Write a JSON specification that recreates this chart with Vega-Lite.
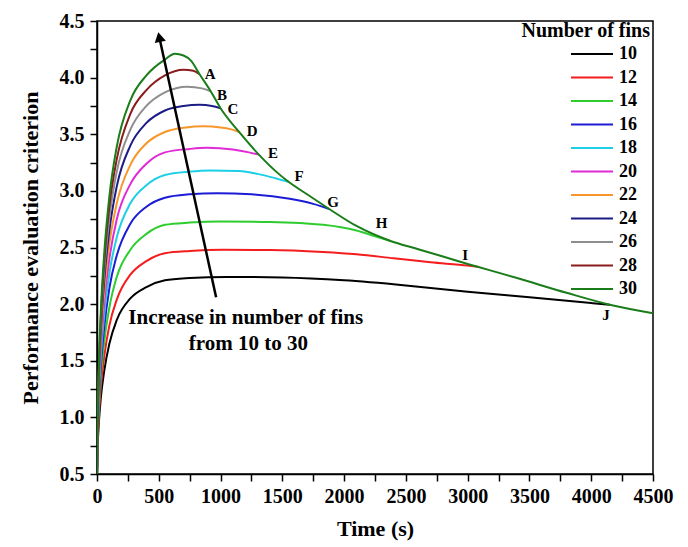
{
  "$schema": "https://vega.github.io/schema/vega-lite/v6.json",
  "width": 556,
  "height": 453,
  "autosize": {"type": "none"},
  "padding": {"left": 97, "top": 21, "right": 35, "bottom": 73},
  "background": "white",
  "config": {
    "view": {"stroke": "#000", "strokeWidth": 1.5},
    "font": "Liberation Serif",
    "axis": {"domainColor": "#000", "domainWidth": 1.5, "tickColor": "#000", "tickWidth": 1.5, "grid": false,
      "labelFont": "Liberation Serif", "labelFontWeight": "bold", "labelFontSize": 20, "labelColor": "#000",
      "titleFont": "Liberation Serif", "titleFontWeight": "bold", "titleFontSize": 22, "titleColor": "#000"}
  },
  "datasets": {
    "curves": [
      {"n":10,"t":0,"y":0.5},{"n":10,"t":5,"y":0.73},{"n":10,"t":15,"y":0.95},{"n":10,"t":30,"y":1.16},{"n":10,"t":60,"y":1.42},{"n":10,"t":100,"y":1.65},{"n":10,"t":160,"y":1.86},{"n":10,"t":270,"y":2.05},{"n":10,"t":400,"y":2.15},{"n":10,"t":550,"y":2.21},{"n":10,"t":750,"y":2.23},{"n":10,"t":1050,"y":2.24},{"n":10,"t":1500,"y":2.235},{"n":10,"t":2000,"y":2.21},{"n":10,"t":2500,"y":2.165},{"n":10,"t":3000,"y":2.11},{"n":10,"t":3500,"y":2.06},{"n":10,"t":4000,"y":2.01},{"n":10,"t":4150,"y":1.995},
      {"n":12,"t":0,"y":0.5},{"n":12,"t":5,"y":0.76},{"n":12,"t":15,"y":1.01},{"n":12,"t":30,"y":1.25},{"n":12,"t":60,"y":1.55},{"n":12,"t":100,"y":1.81},{"n":12,"t":160,"y":2.04},{"n":12,"t":270,"y":2.26},{"n":12,"t":400,"y":2.38},{"n":12,"t":550,"y":2.45},{"n":12,"t":750,"y":2.47},{"n":12,"t":1020,"y":2.48},{"n":12,"t":1400,"y":2.478},{"n":12,"t":1830,"y":2.46},{"n":12,"t":2100,"y":2.44},{"n":12,"t":2400,"y":2.405},{"n":12,"t":2700,"y":2.37},{"n":12,"t":3000,"y":2.34},{"n":12,"t":3080,"y":2.33},
      {"n":14,"t":0,"y":0.5},{"n":14,"t":5,"y":0.79},{"n":14,"t":15,"y":1.08},{"n":14,"t":30,"y":1.35},{"n":14,"t":60,"y":1.68},{"n":14,"t":100,"y":1.97},{"n":14,"t":160,"y":2.24},{"n":14,"t":270,"y":2.48},{"n":14,"t":400,"y":2.62},{"n":14,"t":550,"y":2.7},{"n":14,"t":750,"y":2.72},{"n":14,"t":1000,"y":2.73},{"n":14,"t":1400,"y":2.725},{"n":14,"t":1830,"y":2.7},{"n":14,"t":2100,"y":2.65},{"n":14,"t":2250,"y":2.6},{"n":14,"t":2370,"y":2.56},
      {"n":16,"t":0,"y":0.5},{"n":16,"t":5,"y":0.82},{"n":16,"t":15,"y":1.14},{"n":16,"t":30,"y":1.44},{"n":16,"t":60,"y":1.81},{"n":16,"t":100,"y":2.14},{"n":16,"t":160,"y":2.43},{"n":16,"t":270,"y":2.71},{"n":16,"t":400,"y":2.86},{"n":16,"t":550,"y":2.94},{"n":16,"t":750,"y":2.97},{"n":16,"t":970,"y":2.98},{"n":16,"t":1250,"y":2.97},{"n":16,"t":1560,"y":2.93},{"n":16,"t":1750,"y":2.885},{"n":16,"t":1880,"y":2.84},
      {"n":18,"t":0,"y":0.5},{"n":18,"t":5,"y":0.85},{"n":18,"t":15,"y":1.2},{"n":18,"t":30,"y":1.52},{"n":18,"t":60,"y":1.92},{"n":18,"t":100,"y":2.27},{"n":18,"t":160,"y":2.59},{"n":18,"t":270,"y":2.89},{"n":18,"t":400,"y":3.05},{"n":18,"t":550,"y":3.14},{"n":18,"t":750,"y":3.17},{"n":18,"t":915,"y":3.18},{"n":18,"t":1150,"y":3.175},{"n":18,"t":1300,"y":3.15},{"n":18,"t":1450,"y":3.11},{"n":18,"t":1550,"y":3.08},
      {"n":20,"t":0,"y":0.5},{"n":20,"t":5,"y":0.87},{"n":20,"t":15,"y":1.25},{"n":20,"t":30,"y":1.59},{"n":20,"t":60,"y":2.03},{"n":20,"t":100,"y":2.4},{"n":20,"t":160,"y":2.75},{"n":20,"t":270,"y":3.06},{"n":20,"t":400,"y":3.24},{"n":20,"t":550,"y":3.34},{"n":20,"t":750,"y":3.37},{"n":20,"t":890,"y":3.38},{"n":20,"t":1100,"y":3.365},{"n":20,"t":1230,"y":3.34},{"n":20,"t":1310,"y":3.32},
      {"n":22,"t":0,"y":0.5},{"n":22,"t":5,"y":0.9},{"n":22,"t":15,"y":1.3},{"n":22,"t":30,"y":1.67},{"n":22,"t":60,"y":2.13},{"n":22,"t":100,"y":2.53},{"n":22,"t":160,"y":2.89},{"n":22,"t":270,"y":3.23},{"n":22,"t":400,"y":3.42},{"n":22,"t":550,"y":3.52},{"n":22,"t":720,"y":3.56},{"n":22,"t":860,"y":3.57},{"n":22,"t":1000,"y":3.56},{"n":22,"t":1080,"y":3.545},{"n":22,"t":1150,"y":3.52},
      {"n":24,"t":0,"y":0.5},{"n":24,"t":5,"y":0.92},{"n":24,"t":15,"y":1.35},{"n":24,"t":30,"y":1.74},{"n":24,"t":60,"y":2.23},{"n":24,"t":100,"y":2.65},{"n":24,"t":160,"y":3.04},{"n":24,"t":270,"y":3.4},{"n":24,"t":400,"y":3.6},{"n":24,"t":550,"y":3.71},{"n":24,"t":700,"y":3.75},{"n":24,"t":830,"y":3.76},{"n":24,"t":930,"y":3.75},{"n":24,"t":1000,"y":3.73},
      {"n":26,"t":0,"y":0.5},{"n":26,"t":5,"y":0.94},{"n":26,"t":15,"y":1.39},{"n":26,"t":30,"y":1.8},{"n":26,"t":60,"y":2.31},{"n":26,"t":100,"y":2.76},{"n":26,"t":160,"y":3.17},{"n":26,"t":270,"y":3.54},{"n":26,"t":400,"y":3.75},{"n":26,"t":550,"y":3.87},{"n":26,"t":730,"y":3.92},{"n":26,"t":850,"y":3.905},{"n":26,"t":920,"y":3.88},
      {"n":28,"t":0,"y":0.5},{"n":28,"t":5,"y":0.96},{"n":28,"t":15,"y":1.43},{"n":28,"t":30,"y":1.86},{"n":28,"t":60,"y":2.39},{"n":28,"t":100,"y":2.86},{"n":28,"t":160,"y":3.28},{"n":28,"t":270,"y":3.68},{"n":28,"t":400,"y":3.89},{"n":28,"t":550,"y":4.02},{"n":28,"t":700,"y":4.07},{"n":28,"t":780,"y":4.06},{"n":28,"t":830,"y":4.03},
      {"n":30,"t":0,"y":0.5},{"n":30,"t":5,"y":0.98},{"n":30,"t":15,"y":1.46},{"n":30,"t":30,"y":1.91},{"n":30,"t":60,"y":2.47},{"n":30,"t":100,"y":2.95},{"n":30,"t":160,"y":3.39},{"n":30,"t":270,"y":3.8},{"n":30,"t":400,"y":4.02},{"n":30,"t":550,"y":4.16},{"n":30,"t":630,"y":4.21},{"n":30,"t":700,"y":4.195},{"n":30,"t":760,"y":4.15},{"n":30,"t":830,"y":4.03},{"n":30,"t":920,"y":3.88},{"n":30,"t":1000,"y":3.73},{"n":30,"t":1150,"y":3.52},{"n":30,"t":1310,"y":3.32},{"n":30,"t":1450,"y":3.17},{"n":30,"t":1550,"y":3.08},{"n":30,"t":1700,"y":2.97},{"n":30,"t":1880,"y":2.84},{"n":30,"t":2100,"y":2.69},{"n":30,"t":2370,"y":2.56},{"n":30,"t":2600,"y":2.485},{"n":30,"t":2800,"y":2.42},{"n":30,"t":3000,"y":2.355},{"n":30,"t":3080,"y":2.33},{"n":30,"t":3400,"y":2.23},{"n":30,"t":3800,"y":2.1},{"n":30,"t":4150,"y":1.995},{"n":30,"t":4500,"y":1.92}
    ],
    "letters": [
      {"t":915,"y":4.035,"lab":"A"},{"t":1012,"y":3.844,"lab":"B"},{"t":1101,"y":3.72,"lab":"C"},{"t":1255,"y":3.526,"lab":"D"},{"t":1425,"y":3.335,"lab":"E"},
      {"t":1635,"y":3.131,"lab":"F"},{"t":1910,"y":2.9,"lab":"G"},{"t":2304,"y":2.716,"lab":"H"},{"t":2979,"y":2.437,"lab":"I"},{"t":4120,"y":1.9,"lab":"J"}
    ],
    "notes": [
      {"t":1204,"y":1.875,"txt":"Increase in number of fins"},
      {"t":1225,"y":1.65,"txt":"from 10 to 30"}
    ],
    "arrow": [{"t":964,"y":2.06,"t2":504,"y2":4.358}],
    "head": [{"t":504,"y":4.358}],
    "legtitle": [{"t":4500,"y":4.415,"txt":"Number of fins"}]
  },
  "encoding": {
    "x": {"field": "t", "type": "quantitative",
      "scale": {"domain": [0, 4500], "nice": false, "zero": false},
      "axis": {"title": "Time (s)", "values": [0,250,500,750,1000,1250,1500,1750,2000,2250,2500,2750,3000,3250,3500,3750,4000,4250,4500],
        "labelExpr": "datum.value % 500 === 0 ? format(datum.value, 'd') : ''", "labelOverlap": false, "labelFlush": false,
        "tickSize": 7, "labelPadding": 5, "titlePadding": 12,
        "encode": {"ticks": {"update": {"y2": {"signal": "datum.value % 500 === 0 ? 7 : 4"}}}}}},
    "y": {"field": "y", "type": "quantitative",
      "scale": {"domain": [0.5, 4.5], "nice": false, "zero": false},
      "axis": {"title": "Performance evaluation criterion", "values": [0.5,0.75,1,1.25,1.5,1.75,2,2.25,2.5,2.75,3,3.25,3.5,3.75,4,4.25,4.5],
        "labelExpr": "(datum.value * 2) % 1 === 0 ? format(datum.value, '.1f') : ''", "labelOverlap": false, "labelFlush": false,
        "tickSize": 7, "labelPadding": 6, "titlePadding": 17,
        "encode": {"ticks": {"update": {"x2": {"signal": "(datum.value * 2) % 1 === 0 ? -7 : -4"}}}}}}
  },
  "layer": [
    {
      "data": {"name": "curves"},
      "mark": {"type": "line", "strokeWidth": 2, "interpolate": "monotone", "clip": true},
      "encoding": {
        "color": {"field": "n", "type": "ordinal",
          "scale": {"domain": [10,12,14,16,18,20,22,24,26,28,30],
            "range": ["#000000","#f41c1c","#2ecc2e","#1c1cd6","#1ccfe6","#e02ad6","#f7962a","#1c1c86","#8e8e8e","#8a1c1c","#1a7d1a"]},
          "legend": {"title": null, "orient": "none", "legendX": 473, "legendY": 24, "padding": 0,
            "symbolType": "stroke", "symbolSize": 1764, "symbolStrokeWidth": 2, "clipHeight": 18, "rowPadding": 5.5,
            "labelOffset": 5, "labelFont": "Liberation Serif", "labelFontWeight": "bold", "labelFontSize": 18, "labelColor": "#000"}}
      }
    },
    {
      "data": {"name": "arrow"},
      "mark": {"type": "rule", "strokeWidth": 2.5, "color": "#000"},
      "encoding": {"x2": {"field": "t2"}, "y2": {"field": "y2"}}
    },
    {
      "data": {"name": "head"},
      "mark": {"type": "point", "shape": "triangle-up", "filled": true, "color": "#000", "opacity": 1, "size": 130, "angle": 347.8},
      "encoding": {}
    },
    {
      "data": {"name": "letters"},
      "mark": {"type": "text", "font": "Liberation Serif", "fontWeight": "bold", "fontSize": 15, "color": "#000", "align": "center", "baseline": "middle"},
      "encoding": {"text": {"field": "lab"}}
    },
    {
      "data": {"name": "notes"},
      "mark": {"type": "text", "font": "Liberation Serif", "fontWeight": "bold", "fontSize": 21, "color": "#000", "align": "center", "baseline": "middle"},
      "encoding": {"text": {"field": "txt"}}
    },
    {
      "data": {"name": "legtitle"},
      "mark": {"type": "text", "font": "Liberation Serif", "fontWeight": "bold", "fontSize": 20, "color": "#000", "align": "right", "baseline": "middle", "dx": -3},
      "encoding": {"text": {"field": "txt"}}
    }
  ]
}
